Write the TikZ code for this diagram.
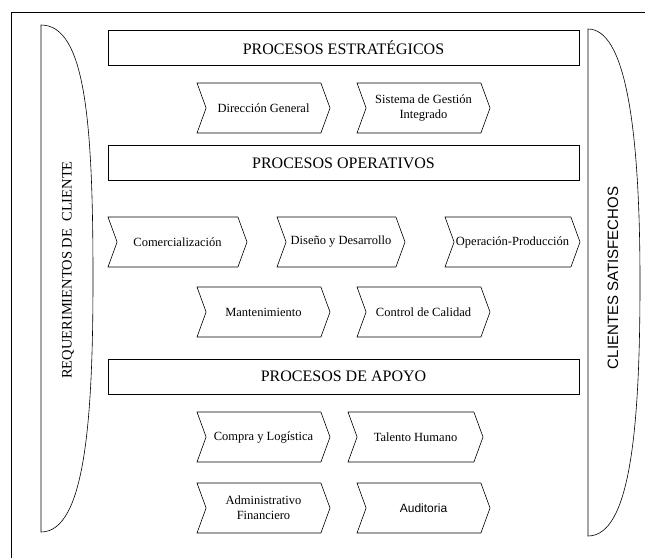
\documentclass[tikz,border=0pt]{standalone}
\usepackage{fontspec}
\setmainfont{Liberation Serif}
\newfontfamily\arialfont{Liberation Sans}
\usetikzlibrary{shapes.symbols}

\begin{document}
\begin{tikzpicture}[x=1pt, y=-1pt, line width=0.6pt]
  \tikzset{bar/.style={draw, minimum width=471pt, minimum height=35pt, inner sep=0pt, font=\fontsize{16}{18}\selectfont},
    chev/.style={draw, shape=signal, signal from=west, signal to=east, signal pointer angle=140,
      minimum height=50pt, inner sep=0pt, align=center, font=\fontsize{12.5}{15}\selectfont},
    side/.style={rotate=90, inner sep=0pt}}
  \useasboundingbox (0,0) rectangle (645,558);
  % frame
  \draw (11,558) -- (11,12) -- (645,12);
  % side brackets
  \draw (41,25) .. controls (85,25) and (93,120) .. (93,278)
    .. controls (93,420) and (85,532) .. (41,532) -- cycle;
  \draw (588,29) .. controls (624,29) and (640,120) .. (640,282)
    .. controls (640,430) and (630,536) .. (588,536) -- cycle;
  \node[side, font=\fontsize{14.5}{16}\selectfont] (req) at (68,270) {REQUERIMIENTOS DE \ CLIENTE};
  \node[side, font=\arialfont\fontsize{15}{17}\selectfont] (sat) at (613,278) {CLIENTES SATISFECHOS};
  % estrategicos
  \node[bar] (estr) at (343.5,47.5) {PROCESOS ESTRATÉGICOS};
  \node[chev, minimum width=133pt] (dir) at (263.5,108) {Dirección General};
  \node[chev, minimum width=133pt] (sgi) at (423.5,108) {Sistema de Gestión\\Integrado};
  % operativos
  \node[bar] (oper) at (343.5,163) {PROCESOS OPERATIVOS};
  \node[chev, minimum width=139pt] (com) at (177.5,242) {Comercialización};
  \node[chev, minimum width=128pt] (dis) at (341,242) {Diseño y Desarrollo};
  \node[chev, minimum width=135pt] (opp) at (512.5,242) {Operación-Producción};
  \node[chev, minimum width=133pt] (man) at (263.5,312) {Mantenimiento};
  \node[chev, minimum width=133pt] (cal) at (423.5,312) {Control de Calidad};
  % apoyo
  \node[bar] (apoyo) at (343.5,376.5) {PROCESOS DE APOYO};
  \node[chev, minimum width=133pt] (log) at (263.5,437) {Compra y Logística};
  \node[chev, minimum width=135pt] (tal) at (415.5,437) {Talento Humano};
  \node[chev, minimum width=133pt] (adm) at (263.5,508) {Administrativo\\Financiero};
  \node[chev, minimum width=133pt, font=\arialfont\fontsize{12}{14}\selectfont] (aud) at (423.5,508) {Auditoria};
\end{tikzpicture}
\end{document}
